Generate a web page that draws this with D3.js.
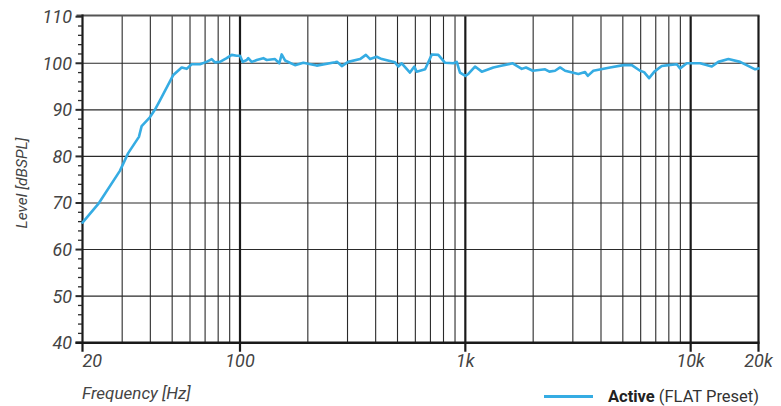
<!DOCTYPE html>
<html>
<head>
<meta charset="utf-8">
<script src="https://cdn.jsdelivr.net/npm/d3@7"></script>
<style>
  html, body { margin: 0; padding: 0; background: #fff; }
  svg { display: block; }
  text { font-family: Roboto, "Liberation Sans", Arial, sans-serif; }
</style>
</head>
<body>
<svg id="chart" width="781" height="406"></svg>
<script>
// ---- data ----
const freqHz = [20, 23.5, 29.3, 31.9, 35.6, 36.6, 39.8, 41.9, 44.2, 50.6, 55.1, 58.0, 61.0, 66.4, 71.1, 74.9, 77.4, 81.5, 87.3, 91.9, 96.7, 100, 102.8, 107.1, 108.8, 112.7, 118.6,
  126.9, 131.4, 143, 149.4, 153.1, 158.4, 175.4, 191, 219, 264, 270, 283, 302, 341, 362, 378, 404, 426, 487, 504, 522, 568, 594, 608, 663, 710, 759, 813, 885, 916, 947, 1000, 1031, 1104, 1183, 1332,
  1426, 1623, 1780, 1859, 1992, 2259, 2360, 2501, 2633, 2771, 3175, 3399, 3494, 3700, 4388, 5028, 5478, 5963, 6211, 6538, 6902, 7440, 7962, 8677, 8974, 9610, 11010, 12410, 13270, 14700, 16570, 19320, 20000];
const levelDb = [65.8, 69.8, 76.9, 80.7, 84.2, 86.5, 88.4, 90.0, 92.1, 97.5, 99.1, 98.8, 99.8, 99.8, 100.3, 100.9, 100.2, 100.3, 101.1, 101.8, 101.6, 101.6, 100.3, 100.7, 101.1, 100.3, 100.7,
  101.1, 100.7, 100.9, 100.0, 101.9, 100.6, 99.6, 100.1, 99.5, 100.2, 100.3, 99.4, 100.3, 100.9, 101.8, 100.9, 101.4, 100.9, 100.2, 99.3, 100.0, 98.0, 99.3, 98.2, 98.7, 101.9, 101.8, 100.1, 100.0, 100.3, 98.0, 97.3, 97.7, 99.3, 98.2, 99.1,
  99.4, 100.0, 98.8, 99.1, 98.4, 98.7, 98.2, 98.4, 99.1, 98.4, 97.7, 98.1, 97.3, 98.4, 99.1, 99.6, 99.6, 98.4, 98.1, 96.8, 98.2, 99.4, 99.6, 99.8, 98.9, 100.0, 100.0, 99.3, 100.3, 100.9, 100.3, 98.7, 98.9];
const xTickValues = [20, 100, 1000, 10000, 20000];
const xTickLabels = ["20", "100", "1k", "10k", "20k"];
const xMinorGrid = [30, 40, 50, 60, 70, 80, 90, 200, 300, 400, 500, 600, 700, 800, 900, 2000, 3000, 4000, 5000, 6000, 7000, 8000, 9000];
const xDecadeGrid = [100, 1000, 10000];
const yTickValues = [40, 50, 60, 70, 80, 90, 100, 110];
const yMinorTicks = d3.range(40, 111, 2);
const seriesName = "Active";
const seriesNote = " (FLAT Preset)";

// ---- layout ----
const svg = d3.select("#chart");
const x = d3.scaleLog().domain([20, 20000]).range([82.5, 758.5]);
const y = d3.scaleLinear().domain([40, 110]).range([342.7, 16.7]);
const pLeft = x(20), pRight = x(20000), pTop = 15.5, pBottom = y(40);
const lineColor = "#35ace3";

// horizontal grid
svg.append("g").selectAll("line").data(yTickValues.filter(v => v > 40 && v < 110)).join("line")
  .attr("x1", pLeft).attr("x2", pRight).attr("y1", d => y(d)).attr("y2", d => y(d))
  .attr("stroke", "#2a2a2a").attr("stroke-width", 1.1);

// vertical minor grid
svg.append("g").selectAll("line").data(xMinorGrid).join("line")
  .attr("x1", d => x(d)).attr("x2", d => x(d)).attr("y1", pTop).attr("y2", pBottom)
  .attr("stroke", "#2a2a2a").attr("stroke-width", 1.1);

// decade grid
svg.append("g").selectAll("line").data(xDecadeGrid).join("line")
  .attr("x1", d => x(d)).attr("x2", d => x(d)).attr("y1", pTop).attr("y2", pBottom + 9)
  .attr("stroke", "#1a1a1a").attr("stroke-width", 2.2);

// top border
svg.append("line").attr("x1", pLeft - 6).attr("x2", pRight + 1).attr("y1", pTop).attr("y2", pTop)
  .attr("stroke", "#555").attr("stroke-width", 2);
// right border
svg.append("line").attr("x1", pRight).attr("x2", pRight).attr("y1", pTop).attr("y2", pBottom + 9)
  .attr("stroke", "#1a1a1a").attr("stroke-width", 2.2);
// left axis
svg.append("line").attr("x1", pLeft).attr("x2", pLeft).attr("y1", pTop - 1).attr("y2", pBottom + 9)
  .attr("stroke", "#1a1a1a").attr("stroke-width", 2.2);

// y ticks
svg.append("g").selectAll("line").data(yMinorTicks).join("line")
  .attr("x1", d => (d % 10 === 0 ? pLeft - 7 : pLeft - 4.5)).attr("x2", pLeft)
  .attr("y1", d => y(d)).attr("y2", d => y(d))
  .attr("stroke", "#2a2a2a").attr("stroke-width", d => (d % 10 === 0 ? 2 : 1.3));

// bottom axis
svg.append("line").attr("x1", pLeft - 7).attr("x2", pRight + 1).attr("y1", pBottom).attr("y2", pBottom)
  .attr("stroke", "#1a1a1a").attr("stroke-width", 2.6);

// curve
const line = d3.line().x((d, i) => x(freqHz[i])).y(d => y(d)).curve(d3.curveLinear);
svg.append("path").datum(levelDb).attr("d", line)
  .attr("fill", "none").attr("stroke", lineColor).attr("stroke-width", 2.6)
  .attr("stroke-linejoin", "round").attr("stroke-linecap", "round");

// y labels
svg.append("g").selectAll("text").data(yTickValues).join("text")
  .attr("x", 72).attr("y", d => y(d)).attr("dy", "0.36em")
  .attr("text-anchor", "end").attr("font-size", 18).attr("font-style", "italic")
  .attr("fill", "#444").text(d => d);

// x labels
svg.append("g").selectAll("text").data(xTickValues).join("text")
  .attr("x", d => x(d)).attr("y", 367)
  .attr("text-anchor", (d, i) => (i === 0 ? "start" : "middle"))
  .attr("font-size", 18).attr("font-style", "italic").attr("fill", "#444")
  .text((d, i) => xTickLabels[i]);

// axis titles
svg.append("text").attr("x", 82).attr("y", 399).attr("font-size", 17).attr("font-style", "italic")
  .attr("fill", "#444").text("Frequency [Hz]");
svg.append("text").attr("transform", "translate(27,183) rotate(-90)").attr("text-anchor", "middle")
  .attr("font-size", 15.5).attr("font-style", "italic").attr("fill", "#444").text("Level [dBSPL]");

// legend
svg.append("line").attr("x1", 544).attr("x2", 593).attr("y1", 396.5).attr("y2", 396.5)
  .attr("stroke", lineColor).attr("stroke-width", 3);
const lt = svg.append("text").attr("x", 759).attr("y", 401.5).attr("text-anchor", "end")
  .attr("font-size", 16.5).attr("fill", "#222");
lt.append("tspan").attr("font-weight", "bold").text(seriesName);
lt.append("tspan").attr("fill", "#333").text(seriesNote);
</script>
</body>
</html>
